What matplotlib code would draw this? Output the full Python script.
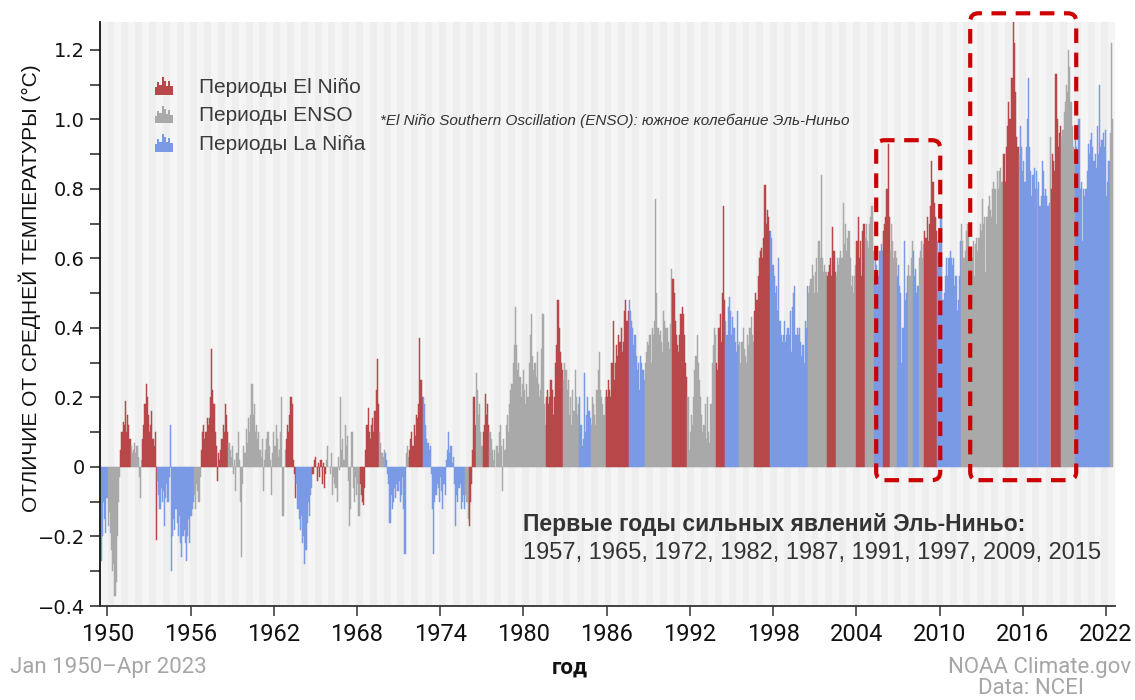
import numpy as np
import matplotlib
matplotlib.use('Agg')
import matplotlib.pyplot as plt
from matplotlib import font_manager
from matplotlib.patches import Rectangle, Patch, FancyBboxPatch
from matplotlib.legend_handler import HandlerBase

# monthly anomalies (deg C), Jan 1950 - Apr 2023
anom_1950s = [
    -0.27, -0.20, -0.10, -0.15, -0.19, -0.09, -0.17, -0.13, -0.19, -0.24, -0.30, -0.28,
    -0.37, -0.33, -0.20, -0.10, -0.03, 0.05, 0.10, 0.13, 0.12, 0.19, 0.10, 0.15,
    0.12, 0.08, 0.06, 0.04, 0.05, 0.07, 0.04, 0.06, 0.03, -0.03, -0.09, 0.02,
    0.08, 0.12, 0.18, 0.24, 0.20, 0.15, 0.10, 0.12, 0.16, 0.08, 0.06, 0.10,
    -0.21, -0.04, -0.08, -0.12, -0.06, -0.10, -0.07, -0.17, -0.09, -0.05, -0.10, -0.03,
    0.12, -0.30, -0.20, -0.15, -0.18, -0.12, -0.16, -0.20, -0.14, -0.22, -0.26, -0.20,
    -0.18, -0.22, -0.27, -0.20, -0.15, -0.22, -0.14, -0.12, -0.10, -0.08, -0.12, -0.05,
    -0.07, -0.10, -0.03, 0.05, 0.10, 0.12, 0.08, 0.10, 0.14, 0.12, 0.14, 0.20,
    0.34, 0.22, 0.18, 0.10, 0.06, -0.04, 0.04, 0.02, 0.05, 0.08, 0.12, 0.10,
    0.18, 0.15, 0.10, 0.07, 0.05, 0.03, 0.06, -0.02, 0.02, -0.07, 0.04, 0.10,
]
anom_1960s = [
    0.02, -0.10, -0.26, -0.05, 0.06, 0.04, 0.11, 0.07, 0.14, 0.10, 0.15, 0.24,
    0.15, 0.18, 0.10, 0.12, 0.08, 0.10, 0.05, 0.03, 0.08, -0.07, 0.02, 0.05,
    0.08, 0.10, 0.06, 0.02, -0.08, 0.04, 0.10, 0.06, 0.12, 0.08, 0.03, 0.05,
    0.10, 0.20, -0.14, 0.00, 0.05, 0.08, 0.12, 0.10, 0.15, 0.20, 0.18, 0.02,
    -0.02, -0.09, -0.05, -0.12, -0.15, -0.18, -0.14, -0.22, -0.20, -0.28, -0.24, -0.16,
    -0.10, -0.14, -0.08, -0.06, -0.02, 0.02, 0.03, 0.00, -0.04, 0.01, -0.03, 0.02,
    -0.05, 0.01, -0.06, -0.02, 0.02, 0.06, 0.00, -0.02, 0.04, -0.08, -0.03, -0.05,
    -0.06, -0.10, 0.03, -0.01, 0.20, 0.05, 0.08, 0.02, 0.12, 0.06, 0.09, -0.04,
    -0.17, -0.12, 0.10, -0.06, -0.10, -0.03, -0.08, -0.05, -0.14, -0.05, -0.08, -0.10,
    -0.11, -0.06, 0.05, 0.12, 0.17, 0.10, 0.08, 0.12, 0.14, 0.10, 0.16, 0.22,
]
anom_1970s = [
    0.31, 0.18, 0.10, 0.07, 0.04, 0.03, 0.05, 0.04, 0.02, -0.02, -0.05, -0.16,
    -0.08, -0.12, -0.10, -0.06, -0.09, -0.05, -0.07, -0.04, -0.10, -0.08, -0.03, -0.12,
    -0.25, 0.04, 0.06, 0.03, 0.05, 0.08, 0.10, 0.06, 0.12, 0.09, 0.15, 0.14,
    0.18, 0.37, 0.25, 0.20, 0.20, 0.18, 0.12, 0.08, 0.07, 0.05, 0.06, -0.02,
    -0.12, -0.25, -0.10, -0.08, -0.05, -0.06, -0.10, -0.03, -0.07, -0.12, -0.05, -0.08,
    0.02, 0.05, 0.10, 0.04, 0.06, 0.01, 0.03, -0.05, -0.17, -0.08, -0.10, -0.06,
    -0.05, -0.12, -0.10, -0.08, -0.12, -0.08, -0.10, -0.15, -0.17, -0.10, -0.05, 0.05,
    0.20, 0.12, 0.27, 0.22, 0.15, 0.18, 0.10, 0.06, 0.10, 0.12, 0.21, 0.15,
    0.18, 0.12, 0.10, 0.08, 0.05, 0.02, 0.05, 0.00, 0.06, 0.04, 0.10, 0.12,
    0.06, -0.07, 0.08, 0.05, 0.12, 0.15, 0.10, 0.18, 0.22, 0.24, 0.30, 0.35,
]
anom_1980s = [
    0.46, 0.35, 0.28, 0.30, 0.26, 0.20, 0.24, 0.28, 0.22, 0.18, 0.24, 0.20,
    0.30, 0.38, 0.44, 0.32, 0.28, 0.30, 0.26, 0.33, 0.24, 0.20, 0.22, 0.34,
    0.44, 0.18, 0.12, 0.20, 0.22, 0.18, 0.20, 0.25, 0.22, 0.15, 0.20, 0.30,
    0.35, 0.48, 0.40, 0.33, 0.30, 0.28, 0.25, 0.30, 0.28, 0.22, 0.25, 0.15,
    0.20, 0.12, 0.22, 0.16, 0.28, 0.20, 0.15, 0.18, 0.20, 0.12, 0.06, 0.08,
    0.27, 0.10, 0.15, 0.20, 0.16, 0.14, 0.12, 0.20, 0.18, 0.15, 0.12, 0.22,
    0.28, 0.33, 0.22, 0.20, 0.18, 0.15, 0.20, 0.22, 0.20, 0.25, 0.22, 0.20,
    0.30, 0.42, 0.25, 0.30, 0.35, 0.32, 0.38, 0.36, 0.40, 0.33, 0.36, 0.45,
    0.48, 0.42, 0.45, 0.48, 0.45, 0.42, 0.40, 0.35, 0.38, 0.32, 0.28, 0.30,
    0.22, 0.32, 0.30, 0.28, 0.25, 0.30, 0.33, 0.36, 0.35, 0.38, 0.30, 0.40,
]
anom_1990s = [
    0.38, 0.42, 0.77, 0.50, 0.40, 0.38, 0.39, 0.36, 0.33, 0.45, 0.42, 0.40,
    0.40, 0.36, 0.34, 0.41, 0.57, 0.54, 0.50, 0.42, 0.38, 0.35, 0.33, 0.38,
    0.44, 0.46, 0.44, 0.38, 0.30, 0.26, 0.20, 0.05, 0.10, 0.15, 0.12, 0.20,
    0.28, 0.32, 0.38, 0.30, 0.25, 0.20, 0.15, 0.10, 0.12, 0.18, 0.08, 0.20,
    0.10, 0.07, 0.18, 0.30, 0.35, 0.40, 0.38, 0.30, 0.28, 0.40, 0.44, 0.36,
    0.50, 0.75, 0.48, 0.42, 0.38, 0.46, 0.49, 0.45, 0.38, 0.43, 0.40, 0.36,
    0.33, 0.45, 0.35, 0.36, 0.30, 0.36, 0.40, 0.34, 0.32, 0.30, 0.38, 0.35,
    0.40, 0.43, 0.38, 0.36, 0.45, 0.50, 0.48, 0.55, 0.60, 0.62, 0.63, 0.60,
    0.66, 0.81, 0.70, 0.74, 0.72, 0.68, 0.68, 0.66, 0.58, 0.55, 0.50, 0.52,
    0.45, 0.60, 0.42, 0.38, 0.36, 0.38, 0.42, 0.36, 0.38, 0.40, 0.38, 0.45,
]
anom_2000s = [
    0.33, 0.46, 0.50, 0.52, 0.38, 0.40, 0.38, 0.40, 0.36, 0.32, 0.35, 0.30,
    0.42, 0.40, 0.52, 0.50, 0.52, 0.54, 0.58, 0.55, 0.50, 0.56, 0.60, 0.50,
    0.65, 0.60, 0.84, 0.60, 0.56, 0.58, 0.56, 0.55, 0.56, 0.58, 0.60, 0.55,
    0.69, 0.62, 0.56, 0.55, 0.60, 0.58, 0.60, 0.62, 0.60, 0.76, 0.64, 0.70,
    0.62, 0.66, 0.68, 0.60, 0.52, 0.55, 0.50, 0.55, 0.58, 0.65, 0.72, 0.60,
    0.65, 0.55, 0.68, 0.70, 0.66, 0.70, 0.65, 0.63, 0.70, 0.72, 0.75, 0.62,
    0.55, 0.62, 0.58, 0.52, 0.55, 0.62, 0.64, 0.62, 0.68, 0.70, 0.72, 0.80,
    0.93, 0.72, 0.62, 0.70, 0.65, 0.60, 0.62, 0.60, 0.55, 0.58, 0.52, 0.50,
    0.30, 0.40, 0.65, 0.48, 0.50, 0.55, 0.58, 0.55, 0.60, 0.65, 0.62, 0.55,
    0.57, 0.50, 0.52, 0.60, 0.62, 0.65, 0.60, 0.64, 0.68, 0.66, 0.72, 0.65,
]
anom_2010s = [
    0.70, 0.75, 0.88, 0.82, 0.76, 0.72, 0.68, 0.65, 0.60, 0.66, 0.72, 0.48,
    0.48, 0.50, 0.55, 0.60, 0.55, 0.60, 0.62, 0.60, 0.58, 0.60, 0.52, 0.55,
    0.45, 0.48, 0.55, 0.65, 0.70, 0.65, 0.60, 0.62, 0.68, 0.70, 0.70, 0.60,
    0.62, 0.60, 0.65, 0.55, 0.64, 0.66, 0.62, 0.66, 0.70, 0.68, 0.77, 0.70,
    0.72, 0.56, 0.72, 0.75, 0.78, 0.74, 0.72, 0.80, 0.82, 0.80, 0.70, 0.85,
    0.80, 0.85, 0.86, 0.82, 0.90, 0.90, 0.82, 0.92, 0.98, 1.05, 1.00, 1.12,
    1.12, 1.30, 1.22, 1.08, 0.95, 0.92, 0.90, 0.98, 0.92, 0.85, 0.88, 0.82,
    0.92, 1.00, 1.12, 0.92, 0.85, 0.78, 0.84, 0.86, 0.80, 0.85, 0.80, 0.82,
    0.75, 0.78, 0.88, 0.85, 0.78, 0.80, 0.78, 0.75, 0.76, 0.95, 0.80, 0.90,
    0.88, 0.85, 1.13, 1.00, 0.92, 0.96, 0.98, 0.95, 0.97, 1.02, 1.05, 1.10,
]
anom_2020s = [
    1.08, 1.20, 1.15, 1.05, 0.98, 0.92, 0.90, 0.95, 0.92, 0.88, 1.00, 0.80,
    0.82, 0.65, 0.80, 0.78, 0.80, 0.85, 0.93, 0.90, 0.94, 0.96, 0.92, 0.88,
    0.90, 0.86, 0.98, 0.90, 1.10, 0.92, 0.94, 0.96, 0.92, 0.97, 0.78, 0.82,
    0.88, 0.96, 1.22, 1.00,
]

# ENSO phase per month: E = El Nino, N = neutral, L = La Nina
phase_1950s = ("LLLLLLNNNNNN" "NNNNNEEEEEEE" "EENNNNNNNNNN" "EEEEEEEEEEEE" "ELLLLLLLLLLL"
               "LLLLLLLLLLLL" "LLLLLLLLLNNN" "NNNEEEEEEEEE" "EEEEEEEEEEEE" "EEENNNNNNNNN")
phase_1960s = ("NNNNNNNNNNNN" "NNNNNNNNNNNN" "NNNNNNNNNNNN" "NNNNNEEEEEEE" "EELLLLLLLLLL"
               "LLLLEEEEEEEE" "EEEENNNNNNNN" "NNNNNNNNNNNN" "NNNNNNNNNEEE" "EEEEEEEEEEEE")
phase_1970s = ("EENNNNNLLLLL" "LLLLLLLLLLLL" "LNNNEEEEEEEE" "EEEELLLLLLLL" "LLLLLLLLLLLL"
               "LLLLLLLLLLLL" "LLLLLNNNEEEE" "EENNNNNNEEEE" "EENNNNNNNNNN" "NNNNNNNNNNNN")
phase_1980s = ("NNNNNNNNNNNN" "NNNNNNNNNNNN" "NNNEEEEEEEEE" "EEEEEENNNNNN" "NNNNNNNNLLLL"
               "LLLLLLNNNNNN" "NNNNNNNEEEEE" "EEEEEEEEEEEE" "EEELLLLLLLLL" "LLLLLNNNNNNN")
phase_1990s = ("NNNNNNNNNNNN" "NNNNNEEEEEEE" "EEEEEENNNNNN" "NNNNNNNNNNNN" "NNNNNNNEEEEE"
               "EEELLLLLLLLL" "LLLNNNNNNNNN" "NNNNEEEEEEEE" "EEEEEELLLLLL" "LLLLLLLLLLLL")
phase_2000s = ("LLLLLLLLLLLL" "LLLNNNNNNNNN" "NNNNNNNEEEEE" "EEENNNNNNNNN" "NNNNNNNNNEEE"
               "EEEENNNNNNNN" "LLLLLLLLEEEE" "EENNNNNNLLLL" "LLLLLLNNNNLL" "LLLNNNNNEEEE")
phase_2010s = ("EEEEEEELLLLL" "LLLLLLLLLLLL" "LLLLNNNNNNNN" "NNNNNNNNNNNN" "NNNNNNNNNNNN"
               "NNNNEEEEEEEE" "EEEEEENLLLLL" "LLLLLLLLLLNL" "LLLLLLLLLNEE" "EEEEEEENNNNN")
phase_2020s = "NNNNNNNLLLLL" "LLLLLLLLLLLL" "LLLLLLLLLLLL" "LNNN"

legend_labels = ['Периоды El Niño', 'Периоды ENSO', 'Периоды La Niña']
tick_years = list(range(1950, 2023, 6))
strong_years = [1957, 1965, 1972, 1982, 1987, 1991, 1997, 2009, 2015]

anom = np.array(anom_1950s + anom_1960s + anom_1970s + anom_1980s +
                anom_1990s + anom_2000s + anom_2010s + anom_2020s)
phase = (phase_1950s + phase_1960s + phase_1970s + phase_1980s +
         phase_1990s + phase_2000s + phase_2010s + phase_2020s)
t = 1950 + np.arange(len(anom)) / 12

pal = {'E': '#b8474a', 'N': '#a9a9a9', 'L': '#7b9ae6'}
bar_colors = [pal[p] for p in phase]

names = {f.name for f in font_manager.fontManager.ttflist}
narrow = ['Liberation Sans Narrow', 'Roboto', 'DejaVu Sans'] if 'Liberation Sans Narrow' in names else ['Roboto', 'DejaVu Sans']
sans = ['Liberation Sans', 'DejaVu Sans']

W, H = 1135, 700
fig = plt.figure(figsize=(W / 100, H / 100), dpi=100)
ax = fig.add_axes([100 / W, 1 - 606 / H, 1015 / W, 584 / H])
ax.set_facecolor('#f5f5f5')
for y in range(1949, 2024):
    ax.axvspan(y + 0.5, y + 1.0, color='#eeeeee', lw=0, zorder=0)

ax.bar(t, anom, width=1 / 12, align='edge', color=bar_colors, edgecolor=bar_colors,
       linewidth=0.35, zorder=2)

ax.set_xlim(1949.95, 2023.48)
ax.set_ylim(-0.4, 1.28)

for s in ['top', 'right']:
    ax.spines[s].set_visible(False)
ax.spines['left'].set_color('#111111')
ax.spines['left'].set_linewidth(1.3)
ax.spines['bottom'].set_color('#333333')
ax.spines['bottom'].set_linewidth(1.3)

yt = np.arange(-0.4, 1.21, 0.2)
ax.set_yticks(yt)
ax.set_yticklabels(['0' if abs(v) < 1e-9 else f'{v:.1f}'.replace('-', '\u2212') for v in yt],
                   fontsize=14, family=['DejaVu Sans'], color='#111111')
ax.set_yticks(np.arange(-0.3, 1.25, 0.2), minor=True)
ax.tick_params(axis='y', which='both', direction='out', length=7, width=1.1, color='#222222', pad=4)

# tick marks sit about half a year to the right of the bars
tick_pos = [1950.48 + (y - 1950) * 72.35 / 72 for y in tick_years]
ax.set_xticks(tick_pos)
ax.set_xticklabels([str(y) for y in tick_years], fontsize=17, family=narrow, color='#111111')
ax.tick_params(axis='x', direction='out', length=7, width=1.1, color='#333333', pad=5)


class MiniBars(HandlerBase):
    def create_artists(self, legend, orig_handle, xdescent, ydescent, width, height, fontsize, trans):
        hs = [0.45, 0.75, 0.6, 1.05, 0.85, 0.55, 0.8, 0.5]
        w = width / len(hs)
        out = []
        for i, h in enumerate(hs):
            r = Rectangle((-xdescent + i * w, -ydescent - 0.1 * height), w, height * h * 1.1,
                          facecolor=orig_handle.get_facecolor(), edgecolor='none', transform=trans)
            out.append(r)
        return out


handles = [Patch(facecolor=pal[k]) for k in ['E', 'N', 'L']]
ax.legend(handles, legend_labels, handler_map={Patch: MiniBars()},
          loc='upper left', bbox_to_anchor=(155 / W, 1 - 78 / H), bbox_transform=fig.transFigure,
          frameon=False, borderpad=0, borderaxespad=0, handlelength=0.85, handleheight=0.75,
          handletextpad=1.25, labelspacing=0.45, labelcolor='#3a3a3a',
          prop={'family': sans, 'size': 15})

fig.text(380 / W, 1 - 121 / H, '*El Niño Southern Oscillation (ENSO): южное колебание Эль-Ниньо',
         fontsize=11, style='italic', family=sans, color='#333333', va='center')

fig.text(523 / W, 1 - 525 / H, 'Первые годы сильных явлений Эль-Ниньо:',
         fontsize=16.5, weight='bold', family=sans, color='#333333', va='center')
fig.text(523 / W, 1 - 553 / H, ', '.join(str(y) for y in strong_years),
         fontsize=17, family=sans, color='#333333', va='center')

# red dashed frames around recent warm stretches
asp = (1015 / 73.53) / (584 / 1.68)
for x0, x1, y1 in [(2006.18, 2010.82, 0.94), (2012.99, 2020.67, 1.305)]:
    box = FancyBboxPatch((x0, -0.038), x1 - x0, y1 + 0.038,
                         boxstyle='round,pad=0,rounding_size=0.6', mutation_aspect=asp,
                         fill=False, edgecolor='#cc0000', linewidth=3,
                         linestyle=(0, (3.5, 2.3)), clip_on=False, zorder=5)
    ax.add_patch(box)

fig.text(30 / W, 1 - 288 / H, 'ОТЛИЧИЕ ОТ СРЕДНЕЙ ТЕМПЕРАТУРЫ (°C)', rotation=90,
         ha='center', va='center', fontsize=15, family=sans, color='#111111')

fig.text(10 / W, 1 - 667 / H, 'Jan 1950–Apr 2023', fontsize=16, family=narrow,
         color='#a6a6a6', va='center')
fig.text(570 / W, 1 - 668 / H, 'год', fontsize=16, family=narrow, weight='bold',
         color='#111111', ha='center', va='center')
fig.text(1131 / W, 1 - 667 / H, 'NOAA Climate.gov', fontsize=16, family=narrow,
         color='#a6a6a6', ha='right', va='center')
fig.text(978 / W, 1 - 689 / H, 'Data: NCEI', fontsize=16, family=narrow,
         color='#a6a6a6', va='center')

fig.savefig('out.png', dpi=100, facecolor='white')
